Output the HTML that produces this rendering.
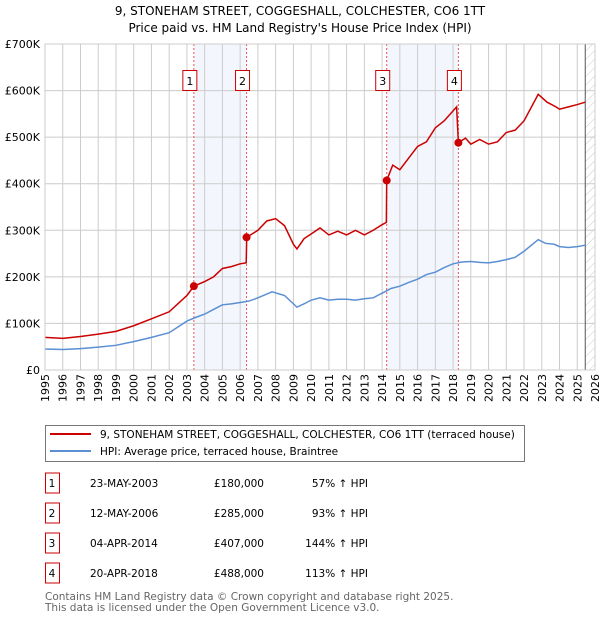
<!DOCTYPE html>
<html><head><meta charset="utf-8">
<style>
body{margin:0;background:#fff;font-family:"DejaVu Sans","Liberation Sans",sans-serif;}
svg text{font-family:"DejaVu Sans","Liberation Sans",sans-serif;}
</style></head><body>
<svg id="c" width="600" height="620" xmlns="http://www.w3.org/2000/svg">
<defs><pattern id="hatch" width="6" height="6" patternUnits="userSpaceOnUse" patternTransform="rotate(45)"><line x1="0" y1="0" x2="0" y2="6" stroke="#ccc" stroke-width="1"/></pattern></defs>
<text x="300" y="15" text-anchor="middle" font-size="12">9, STONEHAM STREET, COGGESHALL, COLCHESTER, CO6 1TT</text>
<text x="300" y="32" text-anchor="middle" font-size="12">Price paid vs. HM Land Registry's House Price Index (HPI)</text>
<g id="plot"></g>
<g>
<rect x="45.5" y="425.5" width="479" height="36" fill="#fff" stroke="#777"/>
<line x1="50" y1="434" x2="91" y2="434" stroke="#cc0000" stroke-width="2"/>
<text x="100" y="438" font-size="10.5">9, STONEHAM STREET, COGGESHALL, COLCHESTER, CO6 1TT (terraced house)</text>
<line x1="50" y1="451" x2="91" y2="451" stroke="#5b8fd4" stroke-width="2"/>
<text x="100" y="455" font-size="10.5">HPI: Average price, terraced house, Braintree</text>
</g>
<g id="table"></g>
<text x="45" y="600" font-size="10.5" fill="#666">Contains HM Land Registry data © Crown copyright and database right 2025.</text>
<text x="45" y="611" font-size="10.5" fill="#666">This data is licensed under the Open Government Licence v3.0.</text>
</svg>
<script>
const yearTicks=[1995,1996,1997,1998,1999,2000,2001,2002,2003,2004,2005,2006,2007,2008,2009,2010,2011,2012,2013,2014,2015,2016,2017,2018,2019,2020,2021,2022,2023,2024,2025,2026];
const valueTicks=[0,100000,200000,300000,400000,500000,600000,700000];
const valueTickLabels=["£0","£100K","£200K","£300K","£400K","£500K","£600K","£700K"];
const hpiYears=[1995,1996,1997,1998,1999,2000,2001,2002,2003,2003.5,2004,2004.5,2005,2005.5,2006,2006.5,2007,2007.8,2008.5,2009.2,2009.6,2010,2010.5,2011,2011.5,2012,2012.5,2013,2013.5,2014,2014.5,2015,2015.5,2016,2016.5,2017,2017.5,2018,2018.5,2019,2019.5,2020,2020.5,2021,2021.5,2022,2022.8,2023.2,2023.7,2024,2024.5,2025,2025.45];
const hpiValues=[45000,44000,46000,49000,53000,61000,70000,80000,105000,113000,120000,130000,140000,142000,145000,148000,155000,168000,160000,135000,142000,150000,155000,150000,152000,152000,150000,153000,155000,165000,175000,180000,188000,195000,205000,210000,220000,228000,232000,233000,231000,230000,233000,237000,242000,255000,280000,272000,270000,265000,263000,265000,268000];
const ppYears=[1995,1996,1997,1998,1999,2000,2001,2002,2003,2003.39,2004,2004.5,2005,2005.5,2006,2006.34,2006.37,2007,2007.5,2008,2008.5,2009,2009.2,2009.6,2010,2010.5,2011,2011.5,2012,2012.5,2013,2013.5,2014,2014.24,2014.26,2014.6,2015,2015.5,2016,2016.5,2017,2017.5,2018.2,2018.3,2018.7,2019,2019.5,2020,2020.5,2021,2021.5,2022,2022.8,2023.3,2023.8,2024,2024.5,2025,2025.45];
const ppValues=[70000,68000,72000,77000,83000,95000,110000,125000,160000,180000,190000,200000,218000,222000,228000,230000,285000,300000,320000,325000,310000,270000,260000,282000,292000,305000,290000,298000,290000,300000,290000,300000,312000,317000,407000,440000,430000,455000,480000,490000,520000,535000,565000,488000,498000,485000,495000,485000,490000,510000,515000,535000,592000,575000,565000,560000,565000,570000,575000];
const saleYears=[2003.39,2006.36,2014.26,2018.3];
const salePrices=[180000,285000,407000,488000];
const saleLabels=["1","2","3","4"];
const saleDates=["23-MAY-2003","12-MAY-2006","04-APR-2014","20-APR-2018"];
const salePriceText=["£180,000","£285,000","£407,000","£488,000"];
const salePct=["57% ↑ HPI","93% ↑ HPI","144% ↑ HPI","113% ↑ HPI"];

const X0=45,X1=595,Y0=370,Y1=44;
const xs=y=>X0+(y-1995)/(2026-1995)*(X1-X0);
const ys=v=>Y0-v/700000*(Y0-Y1);
const NS="http://www.w3.org/2000/svg";
const plot=document.getElementById('plot');
function mk(tag,attrs,parent){const e=document.createElementNS(NS,tag);for(const k in attrs)e.setAttribute(k,attrs[k]);(parent||plot).appendChild(e);return e;}

for(let i=0;i<4;i+=2){
  const r=mk('rect',{x:xs(saleYears[i]),y:Y1,width:xs(saleYears[i+1])-xs(saleYears[i]),height:Y0-Y1,fill:'#f3f6fd'});
  
  
}
const hx=xs(2025.45);
const hr=mk('rect',{x:hx,y:Y1,width:X1-hx,height:Y0-Y1,fill:'url(#hatch)'});


yearTicks.forEach(y=>{
  const l=mk('line',{x1:xs(y),x2:xs(y),y1:Y1,y2:Y0,stroke:'#ccc','stroke-width':1});
  
  
  const t=mk('text',{x:0,y:0,'font-size':11,'text-anchor':'end',transform:`translate(${xs(y)+4},${Y0+4}) rotate(-90)`});
  t.textContent=y;
  
  
});
valueTicks.forEach((v,i)=>{
  const l=mk('line',{x1:X0,x2:X1,y1:ys(v),y2:ys(v),stroke:'#ccc','stroke-width':1});
  
  
  const t=mk('text',{x:X0-5,y:ys(v)+4,'font-size':11,'text-anchor':'end'});
  t.textContent=valueTickLabels[i];
  
  
});
const vl=mk('line',{x1:hx,x2:hx,y1:Y1,y2:Y0,stroke:'#555','stroke-width':1});


saleYears.forEach((y,i)=>{
  const l=mk('line',{x1:xs(y),x2:xs(y),y1:Y1,y2:Y0,stroke:'#e55','stroke-width':1,'stroke-dasharray':'2,2'});
  
  
  const r=mk('rect',{x:xs(y)-11,y:70.5,width:14,height:20,fill:'#fff',stroke:'#cc0000'});
  
  
  const t=mk('text',{x:xs(y)-4,y:85,'font-size':11,'text-anchor':'middle'});
  t.textContent=saleLabels[i];
  
  
});
const hp=mk('polyline',{points:hpiYears.map((y,i)=>xs(y)+','+ys(hpiValues[i])).join(' '),fill:'none',stroke:'#5b8fd4','stroke-width':1.5});


const pp=mk('polyline',{points:ppYears.map((y,i)=>xs(y)+','+ys(ppValues[i])).join(' '),fill:'none',stroke:'#cc0000','stroke-width':1.5});


saleYears.forEach((y,i)=>{
  const c=mk('circle',{cx:xs(y),cy:ys(salePrices[i]),r:4,fill:'#cc0000'});
  
  
});
const bd=mk('rect',{x:X0,y:Y1,width:X1-X0,height:Y0-Y1,fill:'none',stroke:'#ccc'});



const tb=document.getElementById('table');
saleLabels.forEach((s,i)=>{
  const cy=483+i*30;
  const r=mk('rect',{x:45.5,y:cy-10,width:14,height:20,fill:'#fff',stroke:'#cc0000'},tb);
  
  
  const vals=[[s,52,'middle'],[saleDates[i],90,'start'],[salePriceText[i],264,'end'],[salePct[i],368,'end']];
  const names=['table-row-number','table-sale-date','table-sale-price','table-hpi-change'];
  vals.forEach((v,j)=>{
    const t=mk('text',{x:v[1],y:cy+4,'font-size':10.5,'text-anchor':v[2]},tb);
    t.textContent=v[0];
    
    
  });
});
</script>
</body></html>
